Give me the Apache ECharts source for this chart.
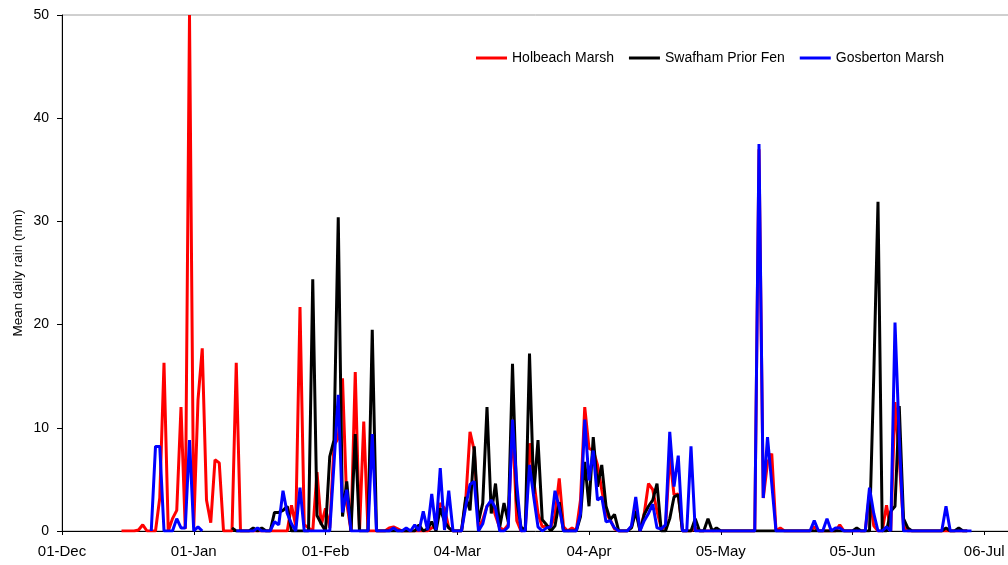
<!DOCTYPE html>
<html>
<head>
<meta charset="utf-8">
<script src="https://cdn.jsdelivr.net/npm/echarts@6.0.0/dist/echarts.min.js"></script>
<style>
  html, body { margin: 0; padding: 0; background: #fff; }
  #chart { width: 1008px; height: 565px; }
</style>
</head>
<body>
<div id="chart"></div>
<script>
// x is days since 01-Dec, ticks every 31 days
const tickLabels = ['01-Dec', '01-Jan', '01-Feb', '04-Mar', '04-Apr', '05-May', '05-Jun', '06-Jul'];

// Holbeach Marsh, first value is day 14
const holbeachStart = 14;
const holbeach = [
  0, 0, 0, 0, 0.1, 0.6, 0, 0, 0, 3.2,
  16.3, 0, 1.2, 2.0, 12.0, 0.2, 50, 0.4, 12.7, 17.7,
  3.0, 0.8, 6.9, 6.6, 0, 0, 0, 16.3, 0, 0,
  0, 0, 0, 0, 0, 0, 0, 0, 0, 0,
  2.5, 0.5, 21.7, 0.6, 0.3, 0, 5.7, 0.6, 2.2, 0.3,
  8.3, 9.0, 14.8, 2.7, 0, 15.4, 0, 10.6, 0, 0,
  0, 0, 0, 0.3, 0.4, 0.2, 0, 0, 0, 0,
  0, 0, 0, 0.3, 0.5, 2.7, 2.2, 0.3, 0, 0,
  0, 3.0, 9.6, 7.8, 0.3, 1.1, 2.4, 2.8, 1.5, 0.3,
  0.1, 0.6, 10.6, 1.0, 0, 0.1, 8.5, 4.9, 1.7, 0.4,
  0.5, 0.4, 1.5, 5.1, 0.4, 0, 0.3, 0, 3.0, 12.0,
  8.0, 7.8, 6.4, 4.0, 1.7, 1.1, 0.2, 0, 0, 0,
  0.4, 2.4, 0, 1.7, 4.6, 4.0, 1.9, 0.3, 0.3, 7.3,
  3.5, 3.6, 0, 0, 0, 0.3, 0, 0, 0, 0,
  0, 0, 0, 0, 0, 0, 0, 0, 0, 0,
  37.0, 3.2, 6.6, 7.5, 0, 0.3, 0, 0, 0, 0,
  0, 0, 0, 0.4, 0, 0, 0, 0, 0, 0.6,
  0, 0, 0, 0, 0, 0, 3.6, 0.5, 0, 0,
  2.5, 0, 12.5, 7.0, 0.5, 0, 0, 0, 0, 0,
  0, 0, 0, 0, 0, 0, 0, 0, 0, 0
];

// Swafham Prior Fen, first value is day 40
const swafhamStart = 40;
const swafham = [
  0.3, 0, 0, 0, 0, 0.3, 0, 0.3, 0, 0,
  1.8, 1.8, 2.0, 2.4, 0, 0, 0, 0, 0, 24.4,
  1.5, 0.7, 0, 7.2, 8.8, 30.4, 1.4, 4.8, 0, 9.4,
  0, 0, 0, 19.5, 0, 0, 0, 0, 0, 0,
  0, 0, 0, 0, 0.6, 0, 0.2, 0.9, 0, 2.2,
  0.9, 0.3, 0, 0, 0, 3.3, 2.0, 8.2, 0.9, 2.7,
  12.0, 1.7, 4.6, 0.4, 2.7, 0.9, 16.2, 3.0, 0.4, 0,
  17.2, 3.6, 8.8, 1.1, 0.6, 0, 0.5, 2.8, 0, 0,
  0, 0, 1.4, 6.7, 2.4, 9.1, 4.3, 6.4, 2.4, 1.1,
  1.6, 0, 0, 0, 0.3, 1.9, 0, 1.6, 2.4, 3.0,
  4.6, 0, 0, 1.2, 3.3, 3.5, 0, 0, 0, 1.2,
  0, 0, 1.2, 0, 0.3, 0, 0, 0, 0, 0,
  0, 0, 0, 0, 0, 0, 0, 0, 0, 0,
  0, 0, 0, 0, 0, 0, 0, 0, 0, 0,
  0, 0, 0, 0, 0, 0, 0, 0.3, 0, 0,
  0, 15, 31.9, 0, 0, 1.9, 2.4, 12.1, 1.2, 0.3,
  0, 0, 0, 0, 0, 0, 0, 0, 0.3, 0,
  0, 0.3, 0, 0
];

// Gosberton Marsh, first value is day 21 (null = no reading)
const gosbertonStart = 21;
const gosberton = [
  0, 8.2, 8.2, 0, 0, 0, 1.2, 0.3, 0.3, 8.8,
  0, 0.4, 0, null, null, null, null, null, null, null,
  0, 0, 0, 0, 0, 0.3, 0, 0, 0, 0.9,
  0.6, 3.9, 1.7, 0.7, 0, 4.2, 0, 0, 0, 0,
  0, 0, 0, 6.5, 13.2, 1.8, 4.0, 0, 0, 0,
  0, 0, 9.4, 0, 0, 0, 0, 0.3, 0, 0,
  0.3, 0, 0.6, 0, 1.9, 0.1, 3.6, 0.1, 6.1, 0.1,
  3.9, 0, 0, 0, 2.4, 4.5, 4.8, 0, 0.7, 2.4,
  3.0, 2.2, 0, 0, 0.4, 10.8, 4.6, 0, 0, 6.4,
  3.3, 0.4, 0, 0.3, 0.4, 3.9, 2.3, 0, 0, 0,
  0, 1.7, 10.8, 4.9, 7.8, 3.0, 3.3, 0.9, 1.0, 0.3,
  0, 0, 0, 0.5, 3.3, 0, 1.0, 1.7, 2.6, 0.3,
  0.2, 0.6, 9.6, 4.3, 7.3, 0, 0, 8.2, 0, 0,
  0, 0, 0, 0, 0, 0, 0, 0, 0, 0,
  0, 0, 0, 37.5, 3.2, 9.1, 4.6, 0, 0, 0,
  0, 0, 0, 0, 0, 0, 1.0, 0, 0, 1.2,
  0, 0.3, 0.3, 0, 0, 0, 0, 0, 0, 4.2,
  1.7, 0, 0, 0.4, 0, 20.2, 9.0, 0, 0, 0,
  0, 0, 0, 0, 0, 0, 0, 2.4, 0, 0,
  0, 0, 0, 0
];

function toPoints(start, values) {
  return values.map((v, i) => [start + i, v === null ? '-' : v]);
}

const font = 'Arial, "Liberation Sans", sans-serif';

function makeSeries(name, color, start, values) {
  return {
    name: name,
    type: 'line',
    showSymbol: false,
    symbol: 'none',
    color: color,
    lineStyle: { color: color, width: 3 },
    data: toPoints(start, values)
  };
}

let myChart = echarts.init(document.getElementById('chart'));
myChart.setOption({
  animation: false,
  backgroundColor: '#fff',
  grid: {
    left: 62,
    top: 15,
    right: -6,
    bottom: 34,
    containLabel: false,
    outerBoundsMode: 'none',
    show: true,
    borderColor: '#a0a0a0',
    borderWidth: 1
  },
  legend: {
    top: 46,
    left: 471,
    padding: 5,
    itemWidth: 31,
    itemHeight: 3,
    itemGap: 15,
    icon: 'rect',
    textStyle: { fontFamily: font, fontSize: 14, color: '#000' },
    data: ['Holbeach Marsh', 'Swafham Prior Fen', 'Gosberton Marsh']
  },
  xAxis: {
    type: 'value',
    min: 0,
    max: 224,
    interval: 31,
    axisLine: { show: true, lineStyle: { color: '#000', width: 1 } },
    axisTick: { show: true, inside: false, length: 4, lineStyle: { color: '#000' } },
    axisLabel: {
      margin: 13,
      color: '#000',
      fontFamily: font,
      fontSize: 15,
      showMaxLabel: false,
      formatter: v => tickLabels[Math.round(v / 31)] || ''
    },
    splitLine: { show: false }
  },
  yAxis: {
    type: 'value',
    min: 0,
    max: 50,
    interval: 10,
    name: 'Mean daily rain (mm)',
    nameLocation: 'middle',
    nameGap: 37,
    nameMoveOverlap: false,
    nameTextStyle: { fontFamily: font, fontSize: 13.5, color: '#000' },
    axisLine: { show: true, lineStyle: { color: '#000', width: 1 } },
    axisTick: { show: true, inside: false, length: 5, lineStyle: { color: '#000' } },
    axisLabel: { margin: 13, color: '#000', fontFamily: font, fontSize: 14 },
    splitLine: { show: false }
  },
  series: [
    makeSeries('Holbeach Marsh', '#ff0000', holbeachStart, holbeach),
    makeSeries('Swafham Prior Fen', '#000000', swafhamStart, swafham),
    makeSeries('Gosberton Marsh', '#0000ff', gosbertonStart, gosberton)
  ]
});
</script>
</body>
</html>
